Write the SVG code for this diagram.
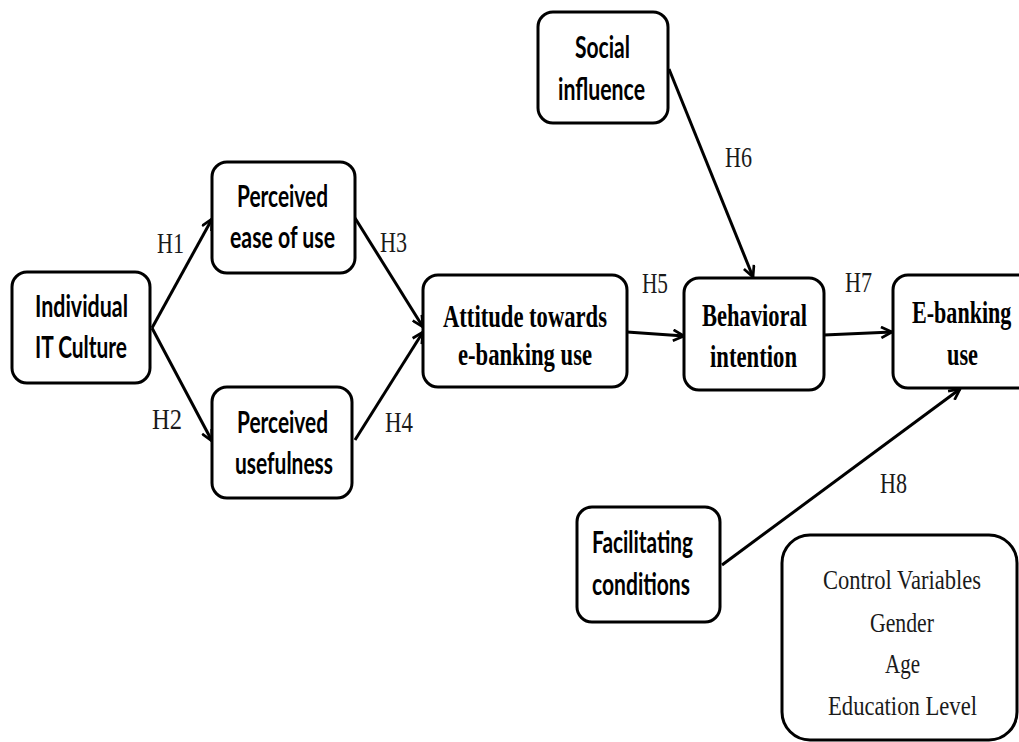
<svg xmlns="http://www.w3.org/2000/svg" width="1019" height="742" viewBox="0 0 1019 742">
  <style>
    .box { fill: #ffffff; stroke: #000000; stroke-width: 3; }
    .link { fill: none; stroke: #000000; stroke-width: 3; }
    .sans { font-family: Lato, "Open Sans", "Liberation Sans", sans-serif; font-weight: bold; font-size: 30px; fill: #000000; }
    .serifb { font-family: "Liberation Serif", "Times New Roman", serif; font-weight: bold; font-size: 32px; fill: #000000; }
    .serif { font-family: "Liberation Serif", "Times New Roman", serif; font-size: 27px; fill: #1a1a1a; }
    .hyp { font-family: "Liberation Serif", "Times New Roman", serif; font-size: 29px; fill: #1a1a1a; }
  </style>
  <defs>
    <marker id="arrow" viewBox="0 0 12 12" refX="11" refY="6" markerWidth="13" markerHeight="13" markerUnits="userSpaceOnUse" orient="auto">
      <path d="M1,1 L11,6 L1,11" fill="none" stroke="#000000" stroke-width="2.5" stroke-linejoin="miter"/>
    </marker>
  </defs>

  <rect width="1019" height="742" fill="#ffffff"/>

  <!-- connectors and hypothesis labels -->
  <g id="connectors">
    <line class="link" x1="152" y1="328" x2="212" y2="219" marker-end="url(#arrow)"/>
    <line class="link" x1="152" y1="328" x2="212" y2="441" marker-end="url(#arrow)"/>
    <line class="link" x1="355" y1="218" x2="423" y2="327" marker-end="url(#arrow)"/>
    <line class="link" x1="355" y1="440" x2="423" y2="332" marker-end="url(#arrow)"/>
    <line class="link" x1="627" y1="332" x2="684" y2="336" marker-end="url(#arrow)"/>
    <line class="link" x1="669" y1="69" x2="753" y2="277" marker-end="url(#arrow)"/>
    <line class="link" x1="824" y1="335" x2="892" y2="332" marker-end="url(#arrow)"/>
    <line class="link" x1="722" y1="565" x2="960" y2="389" marker-end="url(#arrow)"/>
    <text class="hyp" x="157" y="253" textLength="27" lengthAdjust="spacingAndGlyphs">H1</text>
    <text class="hyp" x="152" y="429" textLength="30" lengthAdjust="spacingAndGlyphs">H2</text>
    <text class="hyp" x="380" y="252" textLength="27" lengthAdjust="spacingAndGlyphs">H3</text>
    <text class="hyp" x="385" y="432" textLength="28" lengthAdjust="spacingAndGlyphs">H4</text>
    <text class="hyp" x="642" y="293" textLength="26" lengthAdjust="spacingAndGlyphs">H5</text>
    <text class="hyp" x="725" y="167" textLength="27" lengthAdjust="spacingAndGlyphs">H6</text>
    <text class="hyp" x="845" y="292" textLength="27" lengthAdjust="spacingAndGlyphs">H7</text>
    <text class="hyp" x="880" y="493" textLength="27" lengthAdjust="spacingAndGlyphs">H8</text>
  </g>

  <g id="individual-it-culture">
    <rect class="box" x="12" y="272" width="138" height="111" rx="15"/>
    <text class="sans" x="35" y="317" textLength="93" lengthAdjust="spacingAndGlyphs">Individual</text>
    <text class="sans" x="35" y="358" textLength="92" lengthAdjust="spacingAndGlyphs">IT Culture</text>
  </g>

  <g id="perceived-ease-of-use">
    <rect class="box" x="212" y="162" width="143" height="111" rx="15"/>
    <text class="sans" x="237" y="207" textLength="91" lengthAdjust="spacingAndGlyphs">Perceived</text>
    <text class="sans" x="230" y="248" textLength="105" lengthAdjust="spacingAndGlyphs">ease of use</text>
  </g>

  <g id="perceived-usefulness">
    <rect class="box" x="212" y="387" width="140" height="111" rx="15"/>
    <text class="sans" x="237" y="433" textLength="91" lengthAdjust="spacingAndGlyphs">Perceived</text>
    <text class="sans" x="235" y="474" textLength="98" lengthAdjust="spacingAndGlyphs">usefulness</text>
  </g>

  <g id="attitude">
    <rect class="box" x="423" y="275" width="204" height="112" rx="15"/>
    <text class="serifb" x="443" y="327" textLength="164" lengthAdjust="spacingAndGlyphs">Attitude towards</text>
    <text class="serifb" x="458" y="365" textLength="134" lengthAdjust="spacingAndGlyphs">e-banking use</text>
  </g>

  <g id="social-influence">
    <rect class="box" x="538" y="12" width="130" height="111" rx="15"/>
    <text class="sans" x="575" y="58" textLength="55" lengthAdjust="spacingAndGlyphs">Social</text>
    <text class="sans" x="558" y="100" textLength="87" lengthAdjust="spacingAndGlyphs">influence</text>
  </g>

  <g id="behavioral-intention">
    <rect class="box" x="684" y="278" width="140" height="112" rx="15"/>
    <text class="serifb" x="702" y="326" textLength="105" lengthAdjust="spacingAndGlyphs">Behavioral</text>
    <text class="serifb" x="710" y="367" textLength="87" lengthAdjust="spacingAndGlyphs">intention</text>
  </g>

  <g id="e-banking-use">
    <rect class="box" x="893" y="275" width="140" height="113" rx="15"/>
    <!-- narrowed by scaling so the word fits before the right edge -->
    <text class="serifb" transform="translate(912,323) scale(0.69,1)">E-banking</text>
    <text class="serifb" x="947" y="365" textLength="31" lengthAdjust="spacingAndGlyphs">use</text>
  </g>

  <g id="facilitating-conditions">
    <rect class="box" x="577" y="507" width="143" height="115" rx="15"/>
    <text class="sans" x="592" y="553" textLength="101" lengthAdjust="spacingAndGlyphs">Facilitating</text>
    <text class="sans" x="592" y="595" textLength="98" lengthAdjust="spacingAndGlyphs">conditions</text>
  </g>

  <g id="control-variables">
    <rect class="box" x="782" y="535" width="235" height="205" rx="28"/>
    <text class="serif" x="823" y="589" textLength="158" lengthAdjust="spacingAndGlyphs">Control Variables</text>
    <text class="serif" x="870" y="632" textLength="64" lengthAdjust="spacingAndGlyphs">Gender</text>
    <text class="serif" x="885" y="673" textLength="35" lengthAdjust="spacingAndGlyphs">Age</text>
    <text class="serif" x="828" y="715" textLength="149" lengthAdjust="spacingAndGlyphs">Education Level</text>
  </g>
</svg>
